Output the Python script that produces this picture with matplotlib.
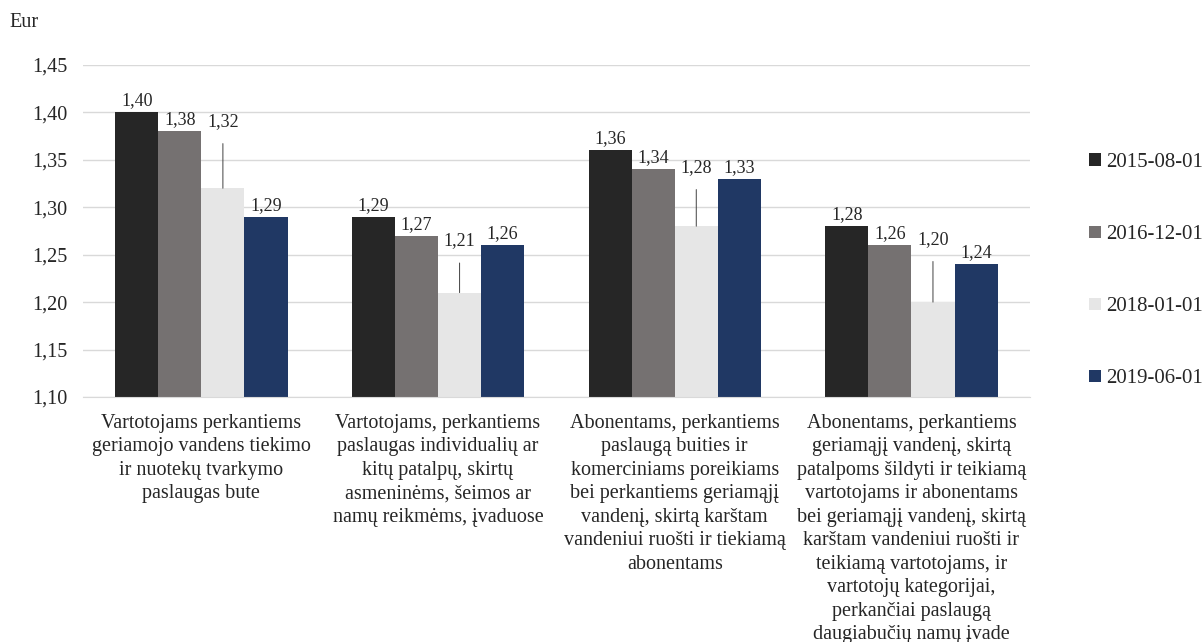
import matplotlib
matplotlib.use("Agg")
import matplotlib.pyplot as plt
import numpy as np
from matplotlib.ticker import FuncFormatter

plt.rcParams['font.family'] = ['Liberation Serif', 'DejaVu Serif']

# duomenys
kategorijos = [
    "Vartotojams perkantiems\ngeriamojo vandens tiekimo\nir nuotekų tvarkymo\npaslaugas bute",
    "Vartotojams, perkantiems\npaslaugas individualių ar\nkitų patalpų, skirtų\nasmeninėms, šeimos ar\nnamų reikmėms, įvaduose",
    "Abonentams, perkantiems\npaslaugą buities ir\nkomerciniams poreikiams\nbei perkantiems geriamąjį\nvandenį, skirtą karštam\nvandeniui ruošti ir tiekiamą\nabonentams",
    "Abonentams, perkantiems\ngeriamąjį vandenį, skirtą\npatalpoms šildyti ir teikiamą\nvartotojams ir abonentams\nbei geriamąjį vandenį, skirtą\nkarštam vandeniui ruošti ir\nteikiamą vartotojams, ir\nvartotojų kategorijai,\nperkančiai paslaugą\ndaugiabučių namų įvade",
]
datos = ["2015-08-01", "2016-12-01", "2018-01-01", "2019-06-01"]
v_2015 = [1.40, 1.29, 1.36, 1.28]
v_2016 = [1.38, 1.27, 1.34, 1.26]
v_2018 = [1.32, 1.21, 1.28, 1.20]
v_2019 = [1.29, 1.26, 1.33, 1.24]
serijos = [v_2015, v_2016, v_2018, v_2019]

spalvos = ['#262626', '#757171', '#e6e6e6', '#203864']

fig = plt.figure(figsize=(12.03, 6.42), dpi=100)
ax = fig.add_axes([0.069, 0.3816, 0.787, 0.5174])

x = np.arange(len(kategorijos))
w = 0.182

# pakelti 3-sios serijos uzrasai (px virs stulpelio)
pakelimas = [67, 52, 59, 63]

for i, (vals, sp, d) in enumerate(zip(serijos, spalvos, datos)):
    pos = x + (i - 1.5) * w
    ax.bar(pos, vals, width=w, color=sp, label=d, zorder=2)
    for j, (px, v) in enumerate(zip(pos, vals)):
        txt = f"{v:.2f}".replace('.', ',')
        if i == 2:
            ax.annotate(txt, xy=(px, v), xytext=(0, pakelimas[j] * 0.72),
                        textcoords='offset points', ha='center', va='center',
                        fontsize=13, color='#262626',
                        arrowprops=dict(arrowstyle='-', color='#404040', lw=0.7,
                                        shrinkA=8, shrinkB=0))
        else:
            ax.annotate(txt, xy=(px, v), xytext=(0, 2), textcoords='offset points',
                        ha='center', va='bottom', fontsize=13, color='#262626')

ax.set_ylim(1.10, 1.45)
ax.set_yticks(np.arange(1.10, 1.4501, 0.05))
ax.yaxis.set_major_formatter(FuncFormatter(lambda v, p: f"{v:.2f}".replace('.', ',')))
ax.set_xlim(-0.5, 3.5)
ax.set_xticks(x)
ax.set_xticklabels(kategorijos, fontsize=14.5, linespacing=1.32)
ax.tick_params(axis='both', length=0, colors='#262626')
ax.tick_params(axis='y', labelsize=14.5, pad=11)
ax.tick_params(axis='x', pad=12)

ax.grid(axis='y', color='#d9d9d9', lw=1, zorder=0)
for s in ['top', 'right', 'left']:
    ax.spines[s].set_visible(False)
ax.spines['bottom'].set_color('#d9d9d9')

fig.text(0.008, 0.965, "Eur", fontsize=14.5, color='#262626', va='center')

ax.legend(loc='center left', bbox_to_anchor=(1.043, 0.38), frameon=False,
          fontsize=15, labelspacing=2.55, handlelength=0.55, handleheight=0.55,
          handletextpad=0.25, labelcolor='#262626')

fig.savefig("out.png", dpi=100)
